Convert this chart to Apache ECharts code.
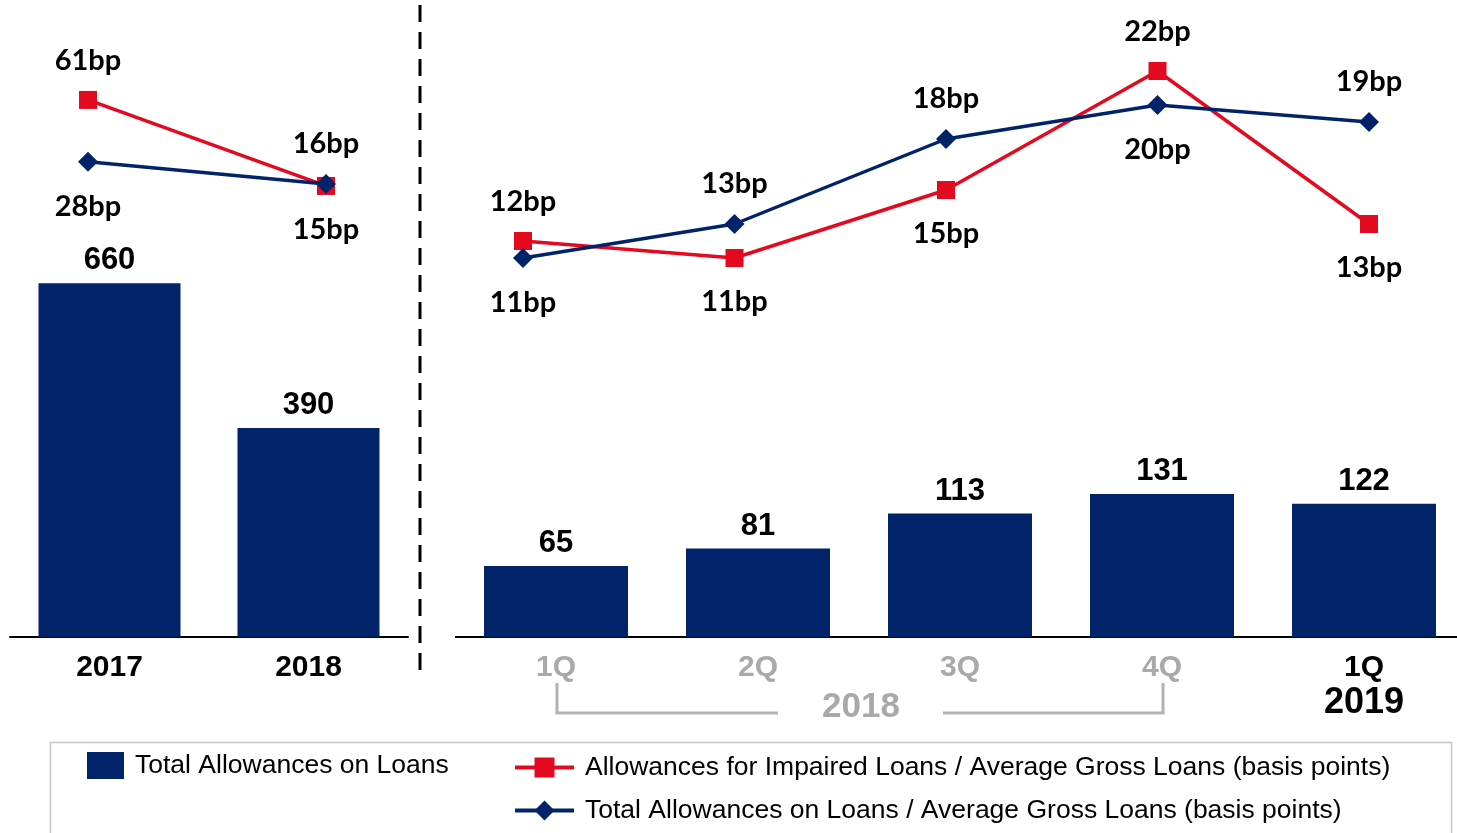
<!DOCTYPE html>
<html>
<head>
<meta charset="utf-8">
<script src="https://cdn.jsdelivr.net/npm/echarts@6/dist/echarts.min.js"></script>
<style>
  html, body { margin: 0; padding: 0; background: #fff; }
  #chart { width: 1457px; height: 833px; }
</style>
</head>
<body>
<div id="chart"></div>
<script>
// Annual figures
const yearCats = ['2017', '2018'];
const yearAllowances = [660, 390];
const yearImpairedBp = [61, 15];
const yearTotalBp = [28, 16];

// Quarterly figures
const quarterCats = ['1Q 2018', '2Q 2018', '3Q 2018', '4Q 2018', '1Q 2019'];
const quarterAllowances = [65, 81, 113, 131, 122];
const quarterImpairedBp = [12, 11, 15, 22, 13];
const quarterTotalBp = [11, 13, 18, 20, 19];

const bracketYear = '2018';
const currentYear = '2019';

const NAVY = '#002369';
const RED = '#E30A20';
const GREY = '#a9a9a9';
const ARIAL = '"Liberation Sans", Arial, sans-serif';
const CALIBRI = 'Lato, "Open Sans", sans-serif';

const barName = 'Total Allowances on Loans';
const impairedName = 'Allowances for Impaired Loans / Average Gross Loans (basis points)';
const totalName = 'Total Allowances on Loans / Average Gross Loans (basis points)';

// The higher of the two ratios gets its label above the marker, the lower one below.
function ratioPoints(values, other) {
  return values.map((v, i) => {
    const above = v >= other[i];
    return {
      value: v,
      label: { position: above ? 'top' : 'bottom', distance: above ? 16 : 21 }
    };
  });
}

const bpLabel = {
  show: true,
  formatter: p => p.value + 'bp',
  fontFamily: CALIBRI,
  fontWeight: 'bold',
  fontSize: 29,
  lineHeight: 28,
  color: '#000'
};

const barLabel = {
  show: true,
  position: 'top',
  distance: 7,
  fontFamily: ARIAL,
  fontWeight: 'bold',
  fontSize: 31,
  lineHeight: 31,
  color: '#000'
};

const legendText = { fontFamily: ARIAL, fontSize: 26.5, color: '#000', padding: [0, 0, 0, 6] };

const hiddenCat = (gridIndex, data) => ({
  type: 'category', gridIndex, data, boundaryGap: false, show: false
});
const hiddenVal = (gridIndex, max) => ({
  type: 'value', gridIndex, min: 0, max, show: false, splitLine: { show: false }
});

const chart = echarts.init(document.getElementById('chart'), null, { renderer: 'canvas' });

chart.setOption({
  animation: false,
  backgroundColor: '#fff',
  grid: [
    { left: 10, top: 101, width: 398, height: 536 },   // annual bars
    { left: 556, top: 91, width: 808, height: 546 },   // quarterly bars (ticks at bar centres)
    { left: 88, top: 27, width: 238, height: 187 },    // annual ratios
    { left: 523, top: 20, width: 846, height: 425 }    // quarterly ratios
  ],
  xAxis: [
    {
      type: 'category', gridIndex: 0, data: yearCats,
      axisLine: { lineStyle: { color: '#000', width: 2 } },
      axisTick: { show: false },
      axisLabel: {
        margin: 14, fontFamily: ARIAL, fontWeight: 'bold', fontSize: 30,
        lineHeight: 34, color: '#000'
      }
    },
    {
      type: 'category', gridIndex: 1, data: quarterCats, boundaryGap: false,
      axisLine: { show: false },
      axisTick: { show: false },
      axisLabel: {
        margin: 14,
        formatter: v => {
          const [q, y] = v.split(' ');
          return y === currentYear ? '{cur|' + q + '}\n{yr|' + y + '}' : '{old|' + q + '}';
        },
        rich: {
          old: { fontFamily: ARIAL, fontWeight: 'bold', fontSize: 30, lineHeight: 34, color: GREY },
          cur: { fontFamily: ARIAL, fontWeight: 'bold', fontSize: 30, lineHeight: 34, color: '#000' },
          yr: { fontFamily: ARIAL, fontWeight: 'bold', fontSize: 36, lineHeight: 36, color: '#000' }
        }
      }
    },
    hiddenCat(2, yearCats),
    hiddenCat(3, quarterCats)
  ],
  yAxis: [
    hiddenVal(0, 1000),
    hiddenVal(1, 500),
    hiddenVal(2, 100),
    hiddenVal(3, 25)
  ],
  legend: [
    {
      data: [{ name: barName, icon: 'rect' }], left: 82, top: 747,
      itemWidth: 37, itemHeight: 27, textStyle: legendText
    },
    {
      data: [{ name: impairedName, lineStyle: { width: 4 } }], left: 508, top: 749,
      itemWidth: 59, itemHeight: 25, textStyle: legendText
    },
    {
      data: [{ name: totalName, lineStyle: { width: 4 } }], left: 508, top: 792,
      itemWidth: 59, itemHeight: 25, textStyle: legendText
    }
  ],
  series: [
    {
      name: barName, type: 'bar', xAxisIndex: 0, yAxisIndex: 0,
      data: yearAllowances, barWidth: 142,
      itemStyle: { color: NAVY }, label: barLabel
    },
    {
      name: barName, type: 'bar', xAxisIndex: 1, yAxisIndex: 1,
      data: quarterAllowances, barWidth: 144,
      itemStyle: { color: NAVY }, label: barLabel
    },
    {
      name: impairedName, type: 'line', xAxisIndex: 2, yAxisIndex: 2,
      data: ratioPoints(yearImpairedBp, yearTotalBp),
      symbol: 'rect', symbolSize: 18, z: 3,
      lineStyle: { color: RED, width: 3.5 }, itemStyle: { color: RED },
      label: bpLabel
    },
    {
      name: totalName, type: 'line', xAxisIndex: 2, yAxisIndex: 2,
      data: ratioPoints(yearTotalBp, yearImpairedBp),
      symbol: 'diamond', symbolSize: 20, z: 4,
      lineStyle: { color: NAVY, width: 3.5 }, itemStyle: { color: NAVY },
      label: bpLabel
    },
    {
      name: impairedName, type: 'line', xAxisIndex: 3, yAxisIndex: 3,
      data: ratioPoints(quarterImpairedBp, quarterTotalBp),
      symbol: 'rect', symbolSize: 18, z: 3,
      lineStyle: { color: RED, width: 3.5 }, itemStyle: { color: RED },
      label: bpLabel
    },
    {
      name: totalName, type: 'line', xAxisIndex: 3, yAxisIndex: 3,
      data: ratioPoints(quarterTotalBp, quarterImpairedBp),
      symbol: 'diamond', symbolSize: 20, z: 4,
      lineStyle: { color: NAVY, width: 3.5 }, itemStyle: { color: NAVY },
      label: bpLabel
    }
  ],
  graphic: [
    // baseline of the quarterly panel
    {
      type: 'line', silent: true,
      shape: { x1: 455, y1: 637, x2: 1457, y2: 637 },
      style: { stroke: '#000', lineWidth: 2 }
    },
    // divider between annual and quarterly panels
    {
      type: 'line', silent: true,
      shape: { x1: 420, y1: 5, x2: 420, y2: 675 },
      style: { stroke: '#000', lineWidth: 3, lineDash: [17, 10] }
    },
    // bracket grouping the 2018 quarters
    {
      type: 'polyline', silent: true,
      shape: { points: [[557, 683], [557, 713], [778, 713]] },
      style: { stroke: '#b3b3b3', lineWidth: 3, fill: null }
    },
    {
      type: 'polyline', silent: true,
      shape: { points: [[943, 713], [1163, 713], [1163, 683]] },
      style: { stroke: '#b3b3b3', lineWidth: 3, fill: null }
    },
    {
      type: 'text', silent: true, left: 822, top: 690,
      style: {
        text: bracketYear, fill: GREY,
        font: 'bold 35px "Liberation Sans", Arial, sans-serif'
      }
    },
    // legend frame
    {
      type: 'rect', silent: true, z: -1,
      shape: { x: 50.5, y: 742.5, width: 1401, height: 120 },
      style: { fill: null, stroke: '#c8c8c8', lineWidth: 1.5 }
    }
  ]
});
</script>
</body>
</html>
